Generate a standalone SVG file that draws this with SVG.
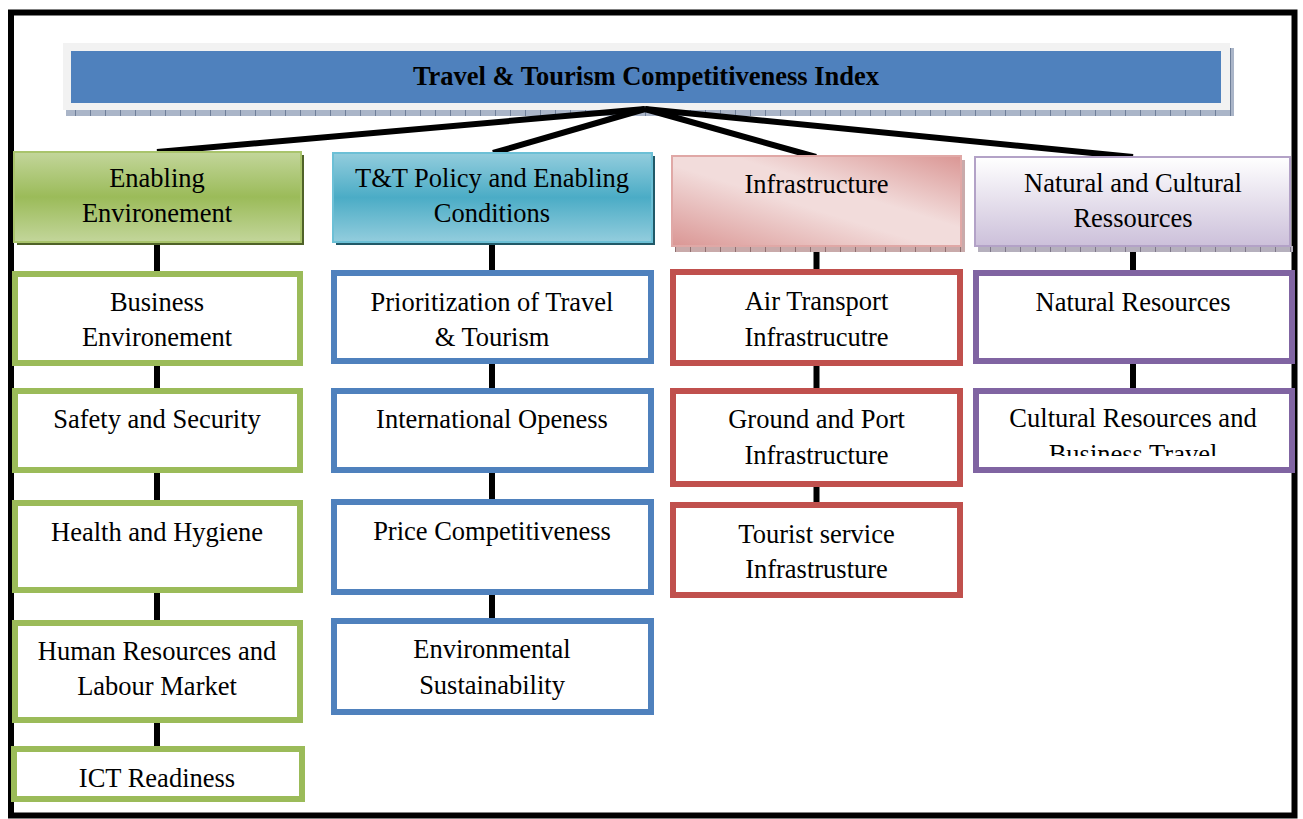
<svg xmlns="http://www.w3.org/2000/svg" width="1303" height="819" viewBox="0 0 1303 819">
<defs>
<style>
text{font-family:"Liberation Serif","Times New Roman",serif;font-size:26.5px;fill:#000;text-anchor:middle}
.title{font-weight:bold}
.conn{stroke:#000;stroke-width:6;fill:none}
.g{fill:#fff;stroke:#9bbb59;stroke-width:6}
.b{fill:#fff;stroke:#4f81bd;stroke-width:6}
.r{fill:#fff;stroke:#c0504d;stroke-width:6}
.p{fill:#fff;stroke:#8064a2;stroke-width:6}
</style>
<linearGradient id="gGreen" x1="0" y1="0" x2="0" y2="1">
<stop offset="0" stop-color="#c3d69b"/><stop offset="0.5" stop-color="#9bbb59"/><stop offset="1" stop-color="#c3d69b"/>
</linearGradient>
<linearGradient id="gTeal" x1="0" y1="0" x2="0" y2="1">
<stop offset="0" stop-color="#93cddd"/><stop offset="0.5" stop-color="#4bacc6"/><stop offset="1" stop-color="#93cddd"/>
</linearGradient>
<linearGradient id="gRed" x1="0" y1="1" x2="1" y2="0">
<stop offset="0" stop-color="#da9694"/><stop offset="0.45" stop-color="#f2dcdb"/><stop offset="0.6" stop-color="#f2dcdb"/><stop offset="1" stop-color="#da9694"/>
</linearGradient>
<linearGradient id="gPurple" x1="0" y1="0" x2="0" y2="1">
<stop offset="0" stop-color="#ffffff"/><stop offset="1" stop-color="#ccc0da"/>
</linearGradient>
<pattern id="shBlue" width="15" height="6" patternUnits="userSpaceOnUse">
<rect width="15" height="6" fill="#aab5c8"/><line x1="0.5" y1="0" x2="0.5" y2="6" stroke="#6f7f99" stroke-width="1"/>
</pattern>
<pattern id="shRed" width="15" height="6" patternUnits="userSpaceOnUse">
<rect width="15" height="6" fill="#c9aaaa"/><line x1="0.5" y1="0" x2="0.5" y2="6" stroke="#8f6f6f" stroke-width="1"/>
</pattern>
<pattern id="shPurple" width="15" height="6" patternUnits="userSpaceOnUse">
<rect width="15" height="6" fill="#b5b0bd"/><line x1="0.5" y1="0" x2="0.5" y2="6" stroke="#7d7788" stroke-width="1"/>
</pattern>
<clipPath id="clipCult"><rect x="976" y="391" width="316" height="65"/></clipPath>
</defs>
<rect x="0" y="0" width="1303" height="819" fill="#fff"/>
<rect x="11" y="12.5" width="1283.5" height="803" fill="#fff" stroke="#000" stroke-width="6"/>

<g id="title">
<rect x="66" y="110" width="1167" height="6" fill="url(#shBlue)"/>
<rect x="1230" y="48" width="4" height="68" fill="url(#shBlue)"/>
<rect x="63" y="43" width="1167" height="67" fill="#f2f2f2"/>
<rect x="71" y="51" width="1150" height="52" fill="#4f81bd"/>
<text class="title" x="646" y="85">Travel &amp; Tourism Competitiveness Index</text>
</g>

<g id="connectors">
<line class="conn" x1="645" y1="109" x2="157" y2="152"/>
<line class="conn" x1="645" y1="109" x2="493" y2="153"/>
<line class="conn" x1="645" y1="109" x2="816" y2="157"/>
<line class="conn" x1="645" y1="109" x2="1133" y2="157"/>
<line class="conn" x1="157" y1="242" x2="157" y2="749"/>
<line class="conn" x1="492" y1="242" x2="492" y2="621"/>
<line class="conn" x1="816.5" y1="246" x2="816.5" y2="505"/>
<line class="conn" x1="1133" y1="246" x2="1133" y2="391"/>
</g>

<g id="enabling">
<rect x="17" y="155" width="287" height="90" fill="#4f6228"/>
<rect x="14" y="152" width="287" height="90" fill="url(#gGreen)" stroke="#a9c46c" stroke-width="2"/>
<text x="157" y="187">Enabling</text>
<text x="157" y="222">Environement</text>
</g>
<g id="policy">
<rect x="336" y="156" width="319" height="89" fill="#215968"/>
<rect x="333" y="153" width="319" height="89" fill="url(#gTeal)" stroke="#6cc0d6" stroke-width="2"/>
<text x="492" y="187">T&amp;T Policy and Enabling</text>
<text x="492" y="222">Conditions</text>
</g>
<g id="infrastructure">
<rect x="675" y="246" width="290" height="6" fill="url(#shRed)"/>
<rect x="961" y="160" width="4" height="92" fill="url(#shRed)"/>
<rect x="672" y="156" width="289" height="90" fill="url(#gRed)" stroke="#e0a8a6" stroke-width="2"/>
<text x="816.5" y="193">Infrastructure</text>
</g>
<g id="natural">
<rect x="978" y="246" width="315" height="6" fill="url(#shPurple)"/>
<rect x="975" y="157" width="315" height="89" fill="url(#gPurple)" stroke="#b3a2c7" stroke-width="2"/>
<text x="1133" y="192">Natural and Cultural</text>
<text x="1133" y="227">Ressources</text>
</g>

<g id="business"><rect class="g" x="15" y="274" width="285" height="89"/><text x="157" y="311">Business</text><text x="157" y="346">Environement</text></g>
<g id="safety"><rect class="g" x="15" y="391" width="285" height="79"/><text x="157" y="428">Safety and Security</text></g>
<g id="health"><rect class="g" x="15" y="503" width="285" height="87"/><text x="157" y="541">Health and Hygiene</text></g>
<g id="human"><rect class="g" x="15" y="623" width="285" height="97"/><text x="157" y="660">Human Resources and</text><text x="157" y="695">Labour Market</text></g>
<g id="ict"><rect class="g" x="14" y="749" width="288" height="50"/><text x="157" y="787">ICT Readiness</text></g>

<g id="prioritization"><rect class="b" x="334" y="273" width="317" height="88"/><text x="492" y="311">Prioritization of Travel</text><text x="492" y="346">&amp; Tourism</text></g>
<g id="openess"><rect class="b" x="334" y="391" width="317" height="79"/><text x="492" y="428">International Openess</text></g>
<g id="price"><rect class="b" x="334" y="502" width="317" height="90"/><text x="492" y="540">Price Competitiveness</text></g>
<g id="environmental"><rect class="b" x="334" y="621" width="317" height="91"/><text x="492" y="658">Environmental</text><text x="492" y="694">Sustainability</text></g>

<g id="air"><rect class="r" x="673" y="272" width="287" height="91"/><text x="816.5" y="310">Air Transport</text><text x="816.5" y="346">Infrastrucutre</text></g>
<g id="ground"><rect class="r" x="673" y="391" width="287" height="93"/><text x="816.5" y="428">Ground and Port</text><text x="816.5" y="464">Infrastructure</text></g>
<g id="tourist"><rect class="r" x="673" y="505" width="287" height="90"/><text x="816.5" y="543">Tourist service</text><text x="816.5" y="578">Infrastrusture</text></g>

<g id="naturalres"><rect class="p" x="976" y="273" width="316" height="88"/><text x="1133" y="311">Natural Resources</text></g>
<g id="cultural"><rect class="p" x="976" y="391" width="316" height="79"/><text x="1133" y="427">Cultural Resources and</text><text x="1133" y="463" clip-path="url(#clipCult)">Business Travel</text></g>
</svg>
